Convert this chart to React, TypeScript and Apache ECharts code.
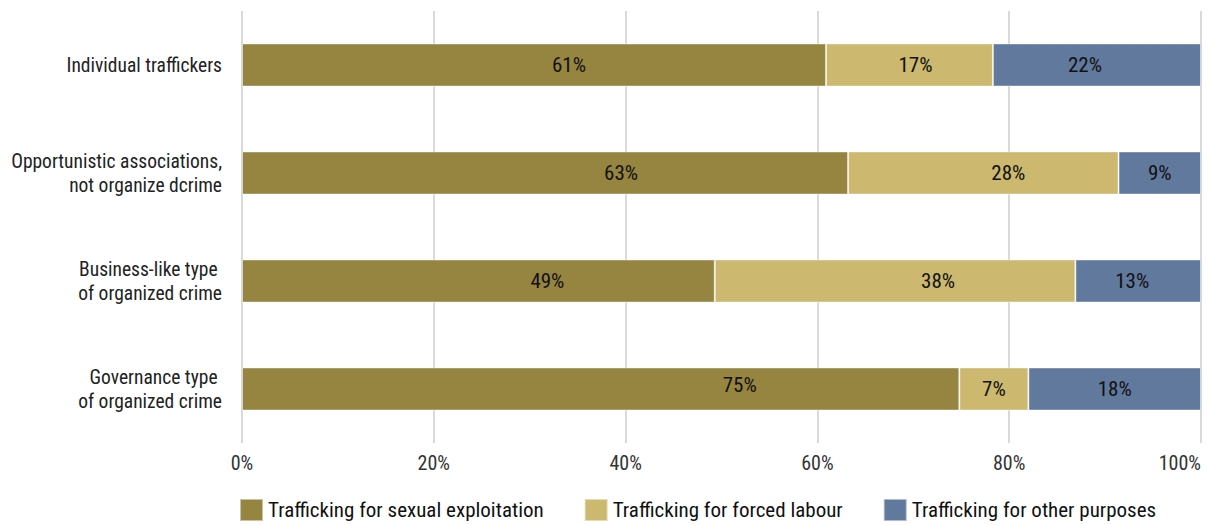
import React, { useEffect, useRef } from "react";
import * as echarts from "echarts";

const categories = [
  "Individual traffickers",
  "Opportunistic associations,\nnot organize dcrime",
  "Business-like type \nof organized crime",
  "Governance type \nof organized crime",
];
const seriesNames = [
  "Trafficking for sexual exploitation",
  "Trafficking for forced labour",
  "Trafficking for other purposes",
];
const sexual = [60.9, 63.2, 49.3, 74.8];
const forced = [17.4, 28.2, 37.6, 7.2];
const other = [21.7, 8.6, 13.1, 18.0];
const colors = ["#968540", "#ccb86e", "#62799e"];
const FONT = "'Roboto Condensed', 'Liberation Sans Narrow', 'DejaVu Sans Condensed', Roboto, sans-serif";

// label placement styling (as in the original, labels are not exactly centred)
const labelShift: number[][][] = [
  [[35, 0], [76, 0], [69, 0], [139, -4]],
  [[6, 0], [25, 0], [43, 0], [0, 0]],
  [[-12, 0], [0, 0], [-6, 0], [0, 0]],
];

export default function App() {
  const ref = useRef<HTMLDivElement>(null);
  useEffect(() => {
    if (!ref.current) return;
    const chart = echarts.init(ref.current, undefined, { renderer: "svg" });
    const mk = (idx: number, data: number[]) => ({
      name: seriesNames[idx],
      type: "bar",
      stack: "total",
      data: data.map((v, i) => ({ value: v, label: { offset: labelShift[idx][i] } })),
      barWidth: "40%",
      itemStyle: { color: colors[idx], borderColor: "rgba(255,255,255,0.5)", borderWidth: 1 },
      label: {
        show: true,
        position: "inside",
        color: "#111",
        fontFamily: FONT,
        fontSize: 21,
        formatter: (p: any) => Math.round(p.value) + "%",
      },
    });
    chart.setOption({
      animation: false,
      textStyle: { fontFamily: FONT },
      grid: {
        left: 242,
        right: 11,
        top: 11,
        bottom: 82,
        containLabel: false,
        outerBoundsMode: "none",
      },
      legend: {
        bottom: 3,
        left: 239,
        padding: 0,
        itemWidth: 23,
        itemHeight: 22,
        itemGap: 40,
        icon: "rect",
        textStyle: { fontFamily: FONT, fontSize: 21, color: "#111" },
        data: seriesNames,
      },
      xAxis: {
        type: "value",
        min: 0,
        max: 100,
        interval: 20,
        axisLine: { show: false },
        axisTick: { show: false },
        splitLine: { lineStyle: { color: "#d9d9d9", width: 2 } },
        axisLabel: {
          formatter: "{value}%",
          color: "#333",
          fontFamily: FONT,
          fontSize: 20,
          margin: 10,
          alignMaxLabel: "right",
        },
      },
      yAxis: {
        type: "category",
        inverse: true,
        data: categories,
        axisLine: { show: false },
        axisTick: { show: false },
        axisLabel: {
          color: "#222",
          fontFamily: FONT,
          fontSize: 19.5,
          margin: 20,
          lineHeight: 24,
          align: "right",
        },
      },
      series: [mk(0, sexual), mk(1, forced), mk(2, other)],
    });
    return () => chart.dispose();
  }, []);
  return <div ref={ref} style={{ width: 1212, height: 525, position: "absolute", left: 0, top: 0 }} />;
}
